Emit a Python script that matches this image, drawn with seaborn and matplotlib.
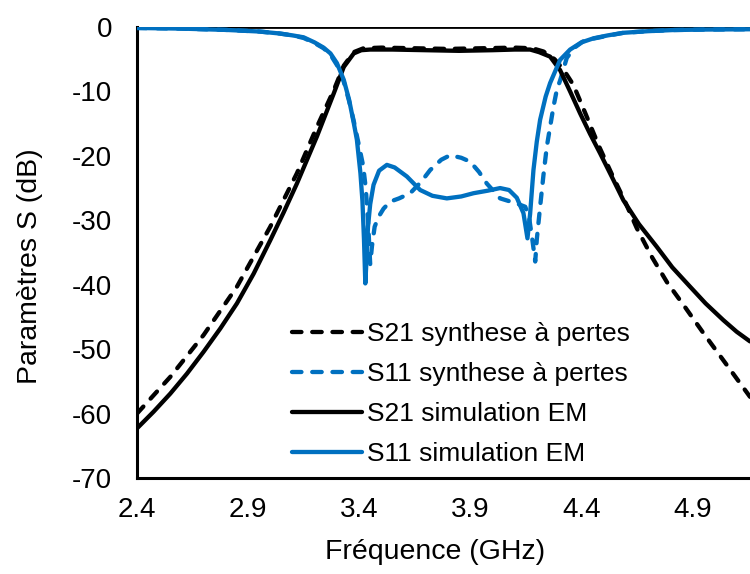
import numpy as np
import pandas as pd
import matplotlib
matplotlib.use("Agg")
import matplotlib.pyplot as plt
import seaborn as sns

# ---------------- data ----------------
f_s21_syn = [2.40, 2.55, 2.70, 2.85, 3.00, 3.12, 3.21, 3.286, 3.331, 3.376, 3.42, 3.50, 3.65,
             3.80, 3.95, 4.10, 4.18, 4.23, 4.28, 4.32, 4.365, 4.42, 4.48, 4.54, 4.60, 4.65,
             4.72, 4.786, 4.87, 4.95, 5.05, 5.16]
s21_syn = [-60.0, -54.3, -47.8, -40.3, -31.0, -22.7, -15.5, -9.8, -6.0, -3.9, -3.3, -3.2, -3.3,
           -3.4, -3.3, -3.2, -3.3, -3.8, -5.0, -6.6, -9.0, -13.5, -18.5, -23.0, -27.3, -31.2,
           -35.8, -39.6, -43.6, -47.5, -52.2, -57.4]

f_s11_syn = [2.40, 2.60, 2.80, 2.95, 3.04, 3.10, 3.15, 3.20, 3.24, 3.271, 3.30, 3.331, 3.355,
             3.376, 3.40, 3.418, 3.43, 3.44, 3.45, 3.458, 3.47, 3.487, 3.51, 3.54, 3.58, 3.63,
             3.68, 3.72, 3.77, 3.81, 3.86, 3.90, 3.94, 3.975, 4.035, 4.11, 4.148, 4.165, 4.18,
             4.193, 4.20, 4.215, 4.23, 4.245, 4.275, 4.29, 4.305, 4.335, 4.37, 4.41, 4.455,
             4.52, 4.59, 4.70, 4.815, 4.95, 5.16]
s11_syn = [-0.15, -0.25, -0.45, -0.7, -1.0, -1.3, -1.7, -2.5, -3.3, -4.3, -5.9, -8.5, -11.5,
           -14.6, -18.5, -21.5, -25.0, -30.0, -36.8, -34.0, -31.0, -29.5, -28.2, -27.1, -26.6,
           -25.8, -24.0, -22.2, -20.6, -19.9, -20.3, -20.9, -22.5, -24.3, -26.6, -27.4, -27.9,
           -29.5, -33.0, -36.4, -33.0, -27.9, -23.0, -18.6, -12.4, -9.8, -8.3, -4.8, -3.2,
           -2.2, -1.8, -1.35, -0.9, -0.65, -0.47, -0.4, -0.35]

f_s21_em = [2.40, 2.475, 2.55, 2.625, 2.70, 2.775, 2.85, 2.925, 3.00, 3.06, 3.12, 3.21, 3.286,
            3.331, 3.376, 3.41, 3.45, 3.55, 3.70, 3.85, 4.00, 4.10, 4.17, 4.21, 4.26, 4.305,
            4.35, 4.395, 4.44, 4.485, 4.54, 4.59, 4.66, 4.74, 4.81, 4.89, 4.96, 5.04, 5.10, 5.16]
s21_em = [-62.3, -59.7, -56.9, -53.8, -50.4, -46.8, -42.9, -38.3, -33.1, -28.8, -24.3, -17.0,
          -10.3, -6.2, -4.1, -3.6, -3.5, -3.5, -3.6, -3.7, -3.6, -3.5, -3.5, -3.9, -4.6, -6.7,
          -10.0, -13.4, -16.6, -19.6, -23.4, -26.9, -30.6, -34.1, -37.3, -40.3, -42.9, -45.5,
          -47.3, -48.8]

f_s11_em = [2.40, 2.60, 2.80, 2.95, 3.04, 3.10, 3.15, 3.20, 3.24, 3.271, 3.30, 3.331, 3.355,
            3.376, 3.39, 3.406, 3.415, 3.422, 3.428, 3.435, 3.44, 3.45, 3.465, 3.49, 3.525,
            3.56, 3.615, 3.675, 3.73, 3.795, 3.86, 3.915, 3.98, 4.035, 4.075, 4.11, 4.14,
            4.158, 4.17, 4.185, 4.20, 4.215, 4.24, 4.26, 4.305, 4.35, 4.40, 4.455, 4.52, 4.59,
            4.70, 4.815, 4.95, 5.16]
s11_em = [-0.15, -0.25, -0.45, -0.7, -1.0, -1.3, -1.6, -2.4, -3.2, -4.1, -5.6, -8.2, -11.3,
          -14.9, -17.5, -22.7, -27.0, -33.0, -39.8, -35.0, -31.0, -27.5, -24.5, -22.3, -21.4,
          -21.8, -23.2, -25.3, -26.2, -26.6, -26.3, -25.8, -25.4, -25.0, -25.3, -26.5, -28.9,
          -32.8, -29.0, -22.2, -17.8, -14.4, -10.8, -8.7, -5.1, -3.5, -2.4, -1.76, -1.3, -0.9,
          -0.65, -0.47, -0.4, -0.35]

labels = ["S21 synthese à pertes", "S11 synthese à pertes",
          "S21 simulation EM", "S11 simulation EM"]
x_ticks = [2.4, 2.9, 3.4, 3.9, 4.4, 4.9]
y_ticks = [0, -10, -20, -30, -40, -50, -60, -70]

# ---------------- style ----------------
sns.set_theme(style="white")
plt.rcParams["font.family"] = ["Liberation Sans", "DejaVu Sans"]

BLUE = "#0070C0"
BLACK = "#000000"
LW = 3.1
DASH = (0, (2.2, 2.5))

fig = plt.figure(figsize=(7.5, 5.74), dpi=100)
ax = fig.add_axes([137 / 750, 96 / 574, (750 - 137) / 750, 451 / 574])

ax.axhline(0, color=BLACK, lw=2.0, zorder=1)

series = [
    (f_s21_syn, s21_syn, BLACK, DASH, labels[0]),
    (f_s11_syn, s11_syn, BLUE, DASH, labels[1]),
    (f_s21_em, s21_em, BLACK, "-", labels[2]),
    (f_s11_em, s11_em, BLUE, "-", labels[3]),
]
for fx, fy, col, ls, lab in series:
    df = pd.DataFrame({"f": fx, "s": fy})
    sns.lineplot(data=df, x="f", y="s", ax=ax, color=col, linestyle=ls, lw=LW,
                 label=lab, dash_capstyle="round", solid_capstyle="round",
                 solid_joinstyle="round", zorder=3)

ax.set_xlim(2.4, 5.16)
ax.set_ylim(-70, 0)
ax.set_xticks(x_ticks)
ax.set_xticklabels([f"{v:.1f}" for v in x_ticks])
ax.set_yticks(y_ticks)
ax.set_yticklabels([str(v) for v in y_ticks])

for side in ["top", "right"]:
    ax.spines[side].set_visible(False)
for side in ["left", "bottom"]:
    ax.spines[side].set_color(BLACK)
    ax.spines[side].set_linewidth(2.2)

ax.tick_params(axis="both", direction="in", length=6, width=2, color=BLACK,
               labelsize=20, labelcolor=BLACK)
ax.tick_params(axis="x", pad=14)
ax.tick_params(axis="y", pad=18)

ax.set_xlabel("Fréquence (GHz)", fontsize=20.5, color=BLACK, labelpad=11)
ax.set_ylabel("Paramètres S (dB)", fontsize=20.5, color=BLACK, labelpad=21)
ax.xaxis.label.set_x(0.487)
ax.yaxis.label.set_y(0.47)

leg = ax.legend(loc="center left", bbox_to_anchor=(292 / 750, 1 - 394 / 574),
                bbox_transform=fig.transFigure, frameon=False, fontsize=19,
                handlelength=2.65, handletextpad=0.2, labelspacing=0.61,
                borderpad=0, borderaxespad=0)
for t in leg.get_texts():
    t.set_color(BLACK)

fig.savefig("out.png", dpi=100)
